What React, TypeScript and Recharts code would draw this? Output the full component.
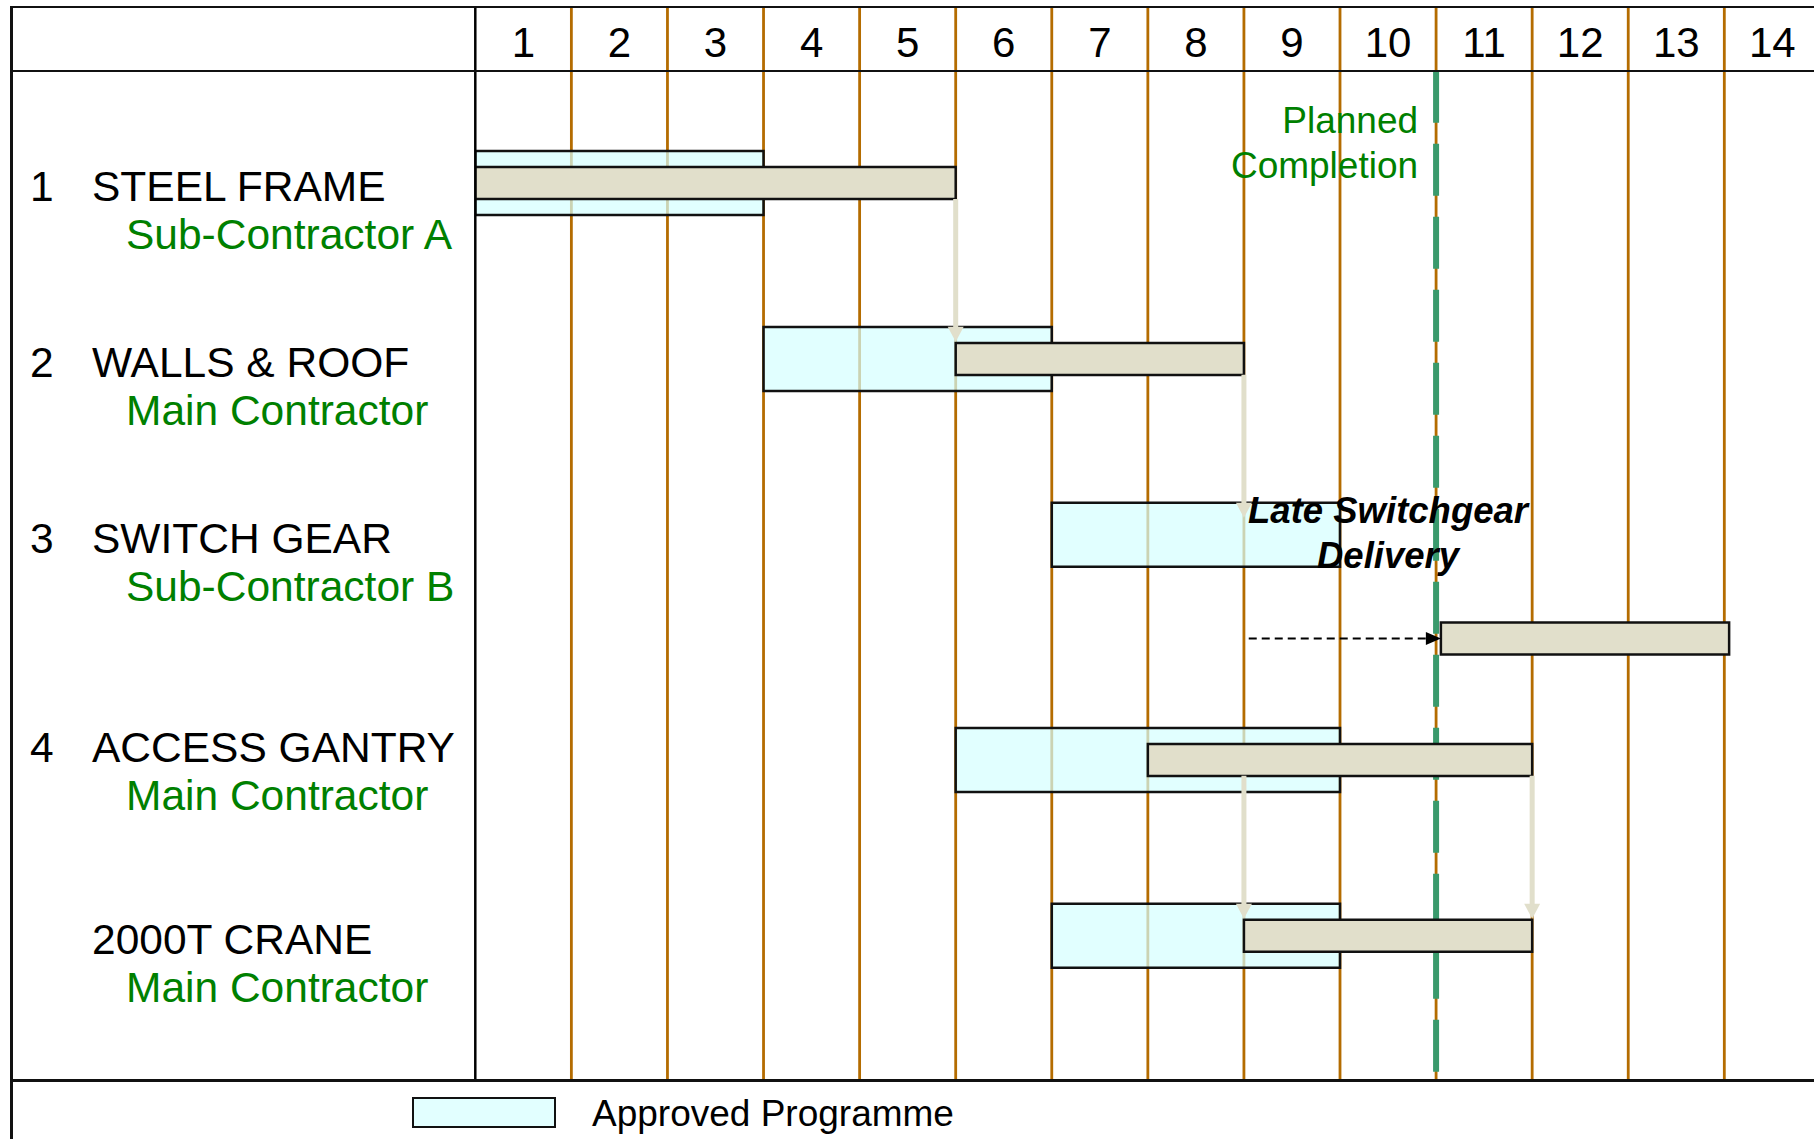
import React from "react";
import { ComposedChart, Bar, XAxis, YAxis, ReferenceLine, ReferenceDot, Legend } from "recharts";

// weeks across the top
const weekLabels = ["1", "2", "3", "4", "5", "6", "7", "8", "9", "10", "11", "12", "13", "14"];

// tasks down the left side
const taskNumbers = ["1", "2", "3", "4", ""];
const taskNames = ["STEEL FRAME", "WALLS & ROOF", "SWITCH GEAR", "ACCESS GANTRY", "2000T CRANE"];
const contractors = ["Sub-Contractor A", "Main Contractor", "Sub-Contractor B", "Main Contractor", "Main Contractor"];
const taskRows = [1, 2, 3, 4.28, 5.28];
const labelRows = [1, 2, 3, 4.19, 5.28];

// approved programme (weeks)
const approvedStart = [0, 3, 6, 5, 6];
const approvedEnd = [3, 6, 9, 9, 9];

// actual progress (weeks) - switch gear slipped onto its own row
const actualRows = [1, 2, 3.59, 4.28, 5.28];
const actualStart = [0, 5, 10.05, 7, 8];
const actualEnd = [5, 8, 13.05, 11, 11];

// knock-on links: week, from task, to task
const linkWeek = [5, 8, 8, 11];
const linkFrom = [0, 1, 3, 3];
const linkTo = [1, 2, 4, 4];

const plannedCompletion = 10;
const delayFrom = 8.05;

const ROW_MAX = 6.1;
const HEADER_ROW = 0.362;
const PLANNED_LABEL_ROW = 0.718;
const LATE_LABEL_ROW = 2.935;

const FONT = '"Liberation Sans", Arial, Helvetica, sans-serif';
const GREEN_TEXT = "#008000";
const ORANGE = "#B46C00";
const DASH_GREEN = "#3A9A6C";
const BEIGE = "#E1DFCB";
const CYAN = "#D4FFFF";

const positions = Array.from(new Set([...taskRows, ...actualRows])).sort((a, b) => a - b);
const chartData = positions.map((pos) => {
  const a = taskRows.indexOf(pos);
  const b = actualRows.indexOf(pos);
  return {
    pos,
    approved: a >= 0 ? [approvedStart[a], approvedEnd[a]] : null,
    actual: b >= 0 ? [actualStart[b], actualEnd[b]] : null,
  };
});

const WeekTick = (props: any) => {
  const { x, payload } = props;
  return (
    <text x={x} y={57} textAnchor="middle" fontSize={42} fontFamily={FONT} fill="#000">
      {weekLabels[Math.floor(payload.value)]}
    </text>
  );
};

const TaskTick = (props: any) => {
  const { y, payload } = props;
  const i = labelRows.indexOf(payload.value);
  if (i < 0) return null;
  return (
    <g fontFamily={FONT} fontSize={42.5}>
      <text x={30} y={y + 18.4} fill="#000">{taskNumbers[i]}</text>
      <text x={92} y={y + 18.4} fill="#000">{taskNames[i]}</text>
      <text x={126} y={y + 66} fill={GREEN_TEXT}>{contractors[i]}</text>
    </g>
  );
};

// beige knock-on arrow, trimmed to the bar edges
const DownArrow = (props: any) => {
  const { x1, y1, y2 } = props;
  const top = y1 + 16;
  const tip = y2 - 17;
  return (
    <g>
      <line x1={x1} y1={top} x2={x1} y2={tip - 14} stroke={BEIGE} strokeWidth={5} />
      <polygon points={`${x1 - 8},${tip - 15} ${x1 + 8},${tip - 15} ${x1},${tip}`} fill={BEIGE} />
    </g>
  );
};

const DelayArrow = (props: any) => {
  const { x1, y1, x2 } = props;
  return (
    <g>
      <line x1={x1} y1={y1} x2={x2 - 13} y2={y1} stroke="#000" strokeWidth={2} strokeDasharray="8 5" />
      <polygon points={`${x2 - 15},${y1 - 6.5} ${x2 - 15},${y1 + 6.5} ${x2},${y1}`} fill="#000" />
    </g>
  );
};

const PlannedLabel = (props: any) => {
  const { cx, cy } = props;
  return (
    <text x={cx - 18} y={cy} textAnchor="end" fontSize={37} fontFamily={FONT} fill={GREEN_TEXT}>
      <tspan x={cx - 18} y={cy}>Planned</tspan>
      <tspan x={cx - 18} y={cy + 45}>Completion</tspan>
    </text>
  );
};

const LateLabel = (props: any) => {
  const { cx, cy } = props;
  return (
    <text x={cx} y={cy} textAnchor="middle" fontSize={36.5} fontWeight="bold" fontStyle="italic" fontFamily={FONT} fill="#000">
      <tspan x={cx} y={cy}>Late Switchgear</tspan>
      <tspan x={cx} y={cy + 45}>Delivery</tspan>
    </text>
  );
};

const LegendContent = (props: any) => {
  const items = (props.payload || []).filter((e: any) => e.dataKey === "approved");
  return (
    <div style={{ display: "flex", alignItems: "flex-start" }}>
      {items.map((e: any) => (
        <React.Fragment key={e.dataKey}>
          <div style={{ width: 144, height: 31, boxSizing: "border-box", border: "2.5px solid #111", background: "#E2FFFF" }} />
          <span style={{ marginLeft: 36, marginTop: -2, fontSize: 37, lineHeight: "37px", fontFamily: FONT, color: "#000", whiteSpace: "nowrap" }}>
            {e.value}
          </span>
        </React.Fragment>
      ))}
    </div>
  );
};

const line = (style: React.CSSProperties): React.CSSProperties => ({ position: "absolute", background: "#111", pointerEvents: "none", ...style });

export default function App() {
  return (
    <div style={{ position: "absolute", left: 0, top: 0, width: 1814, height: 1139, overflow: "hidden", background: "#fff" }}>
      <ComposedChart
        width={1830}
        height={1139}
        layout="vertical"
        data={chartData}
        margin={{ top: 6, right: 9.6, bottom: 59, left: 11 }}
      >
        <XAxis
          type="number"
          domain={[0, weekLabels.length]}
          ticks={weekLabels.map((_, i) => i + 0.5)}
          orientation="top"
          height={1}
          axisLine={false}
          tickLine={false}
          tick={<WeekTick />}
          interval={0}
          allowDataOverflow
        />
        <YAxis
          yAxisId="a"
          type="number"
          dataKey="pos"
          domain={[0, ROW_MAX]}
          ticks={labelRows}
          width={464.3}
          axisLine={{ stroke: "#000", strokeWidth: 2.5 }}
          tickLine={false}
          tick={<TaskTick />}
          interval={0}
          allowDataOverflow
        />
        <YAxis yAxisId="b" type="number" dataKey="pos" domain={[0, ROW_MAX]} hide allowDataOverflow />

        {weekLabels.map((_, i) => (
          <ReferenceLine key={`wk-${i}`} yAxisId="a" x={i + 1} stroke={ORANGE} strokeWidth={2.8} zIndex={50} ifOverflow="visible" />
        ))}
        <ReferenceLine
          yAxisId="a"
          segment={[{ x: plannedCompletion, y: HEADER_ROW }, { x: plannedCompletion, y: ROW_MAX }]}
          stroke={DASH_GREEN}
          strokeWidth={6}
          strokeDasharray="52 21"
          zIndex={60}
        />

        <Bar
          yAxisId="a"
          dataKey="approved"
          name="Approved Programme"
          barSize={64}
          fill={CYAN}
          fillOpacity={0.7}
          stroke="#111"
          strokeWidth={2.5}
          isAnimationActive={false}
          zIndex={100}
        />
        <Bar
          yAxisId="b"
          dataKey="actual"
          name="Actual"
          barSize={32}
          fill={BEIGE}
          stroke="#111"
          strokeWidth={2.5}
          legendType="none"
          isAnimationActive={false}
          zIndex={300}
        />

        {linkWeek.map((w, i) => (
          <ReferenceLine
            key={`link-${i}`}
            yAxisId="a"
            segment={[{ x: w, y: actualRows[linkFrom[i]] }, { x: w, y: taskRows[linkTo[i]] }]}
            shape={<DownArrow />}
            zIndex={400}
          />
        ))}
        <ReferenceLine
          yAxisId="a"
          segment={[{ x: delayFrom, y: actualRows[2] }, { x: actualStart[2], y: actualRows[2] }]}
          shape={<DelayArrow />}
          zIndex={400}
        />

        <ReferenceDot yAxisId="a" x={plannedCompletion} y={PLANNED_LABEL_ROW} r={0} shape={<PlannedLabel />} zIndex={2000} />
        <ReferenceDot yAxisId="a" x={9.5} y={LATE_LABEL_ROW} r={0} shape={<LateLabel />} zIndex={2000} />

        <Legend
          layout="horizontal"
          verticalAlign="middle"
          align="center"
          content={<LegendContent />}
          wrapperStyle={{ left: 412, top: 1097, width: "auto", height: "auto" }}
        />
      </ComposedChart>

      {/* table frame */}
      <div style={line({ left: 10, top: 5.5, width: 1804, height: 2.5 })} />
      <div style={line({ left: 10, top: 5.5, width: 2.5, height: 1134 })} />
      <div style={line({ left: 10, top: 69.5, width: 1804, height: 2.5 })} />
      <div style={line({ left: 10, top: 1078.5, width: 1804, height: 3 })} />
    </div>
  );
}
